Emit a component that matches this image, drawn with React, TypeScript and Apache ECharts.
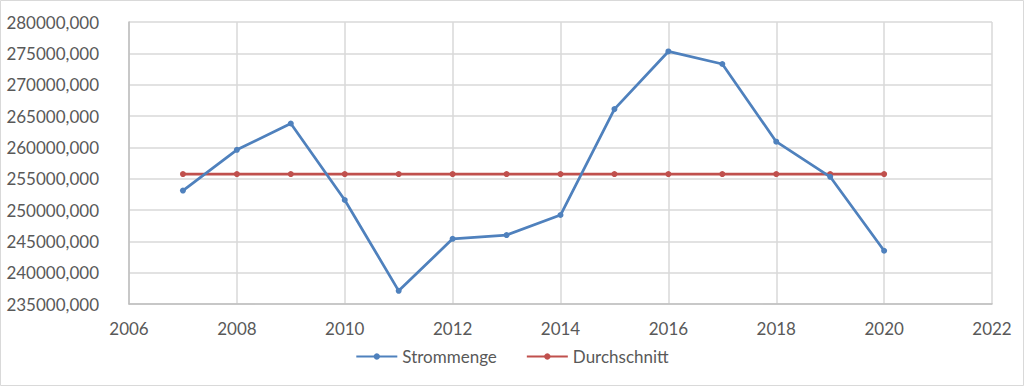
import React, { useEffect, useRef } from "react";
import * as echarts from "echarts";

const years = [2007, 2008, 2009, 2010, 2011, 2012, 2013, 2014, 2015, 2016, 2017, 2018, 2019, 2020];
const strommenge = [253100, 259600, 263800, 251600, 237100, 245400, 246000, 249200, 266100, 275300, 273300, 260900, 255300, 243500];
const durchschnitt = [255730, 255730, 255730, 255730, 255730, 255730, 255730, 255730, 255730, 255730, 255730, 255730, 255730, 255730];
const seriesNames = ["Strommenge", "Durchschnitt"];

const FONT = "Lato, 'Open Sans', sans-serif";

export default function App() {
  const ref = useRef<HTMLDivElement>(null);
  useEffect(() => {
    if (!ref.current) return;
    const chart = echarts.init(ref.current, null, { renderer: "svg" });
    chart.setOption({
      animation: false,
      backgroundColor: "#ffffff",
      textStyle: { fontFamily: FONT },
      graphic: [
        {
          type: "rect",
          shape: { x: 0.5, y: 0.5, width: 1023, height: 385 },
          style: { fill: "none", stroke: "#d9d9d9", lineWidth: 1 },
          silent: true,
          z: -1,
        },
      ],
      grid: { left: 129, right: 32, top: 22, bottom: 82, containLabel: false },
      legend: {
        left: "center",
        top: 343,
        itemWidth: 41,
        itemHeight: 8,
        itemGap: 29,
        textStyle: { fontFamily: FONT, fontSize: 17, color: "#595959" },
        data: seriesNames,
      },
      xAxis: {
        type: "value",
        min: 2006,
        max: 2022,
        interval: 2,
        axisLine: { show: true, lineStyle: { color: "#bfbfbf", width: 1.5 } },
        axisTick: { show: false },
        splitLine: { show: true, lineStyle: { color: "#d9d9d9", width: 1.5 } },
        axisLabel: {
          margin: 16,
          fontFamily: FONT,
          fontSize: 17,
          color: "#595959",
          formatter: (v: number) => String(v),
        },
      },
      yAxis: {
        type: "value",
        min: 235000,
        max: 280000,
        interval: 5000,
        axisLine: { show: true, lineStyle: { color: "#bfbfbf", width: 1.5 } },
        axisTick: { show: false },
        splitLine: { show: true, lineStyle: { color: "#d9d9d9", width: 1.5 } },
        axisLabel: {
          margin: 30,
          fontFamily: FONT,
          fontSize: 17,
          color: "#595959",
          formatter: (v: number) => v + ",000",
        },
      },
      series: [
        {
          name: seriesNames[0],
          type: "line",
          data: years.map((y, i) => [y, strommenge[i]]),
          symbol: "circle",
          symbolSize: 6,
          lineStyle: { color: "#4f81bd", width: 2.75 },
          itemStyle: { color: "#4f81bd" },
          z: 3,
        },
        {
          name: seriesNames[1],
          type: "line",
          data: years.map((y, i) => [y, durchschnitt[i]]),
          symbol: "circle",
          symbolSize: 6,
          lineStyle: { color: "#c0504d", width: 2.75 },
          itemStyle: { color: "#c0504d" },
          z: 2,
        },
      ],
    });
    return () => chart.dispose();
  }, []);
  return (
    <div
      ref={ref}
      style={{ position: "absolute", left: 0, top: 0, width: 1024, height: 386 }}
    />
  );
}
